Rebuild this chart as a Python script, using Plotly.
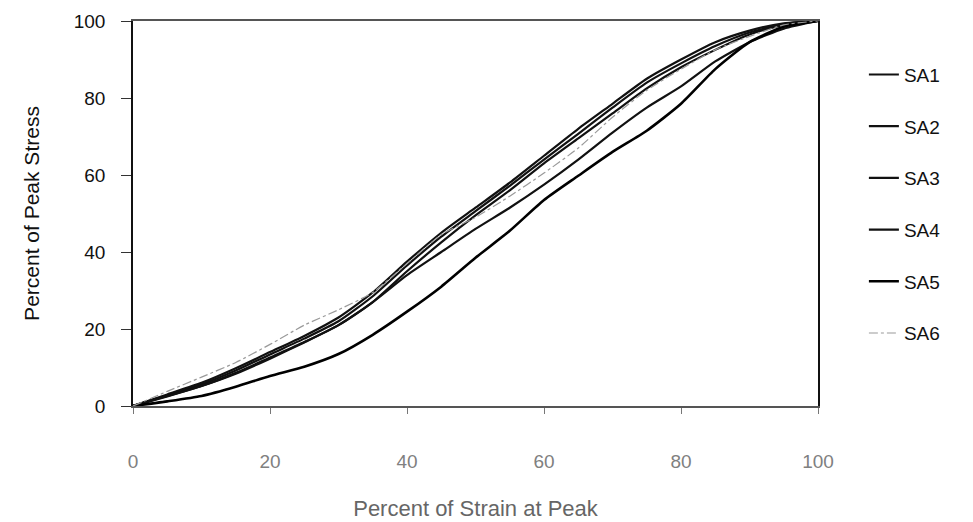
import plotly.graph_objects as go

strain = [0, 5, 10, 15, 20, 25, 30, 35, 40, 45, 50, 55, 60, 65, 70, 75, 80, 85, 90, 95, 100]

sa1 = [0, 2.8, 5.6, 9.2, 13.4, 17.5, 22.0, 28.5, 36.5, 44.0, 50.6, 57.2, 64.0, 70.7, 77.5, 84.0, 89.0, 93.5, 97.0, 99.2, 100]
sa2 = [0, 3.0, 6.0, 9.8, 14.0, 18.2, 23.0, 29.5, 37.5, 45.0, 51.5, 58.0, 65.0, 72.0, 78.5, 85.0, 90.0, 94.5, 97.5, 99.4, 100]
sa3 = [0, 2.6, 5.2, 8.6, 12.6, 16.6, 21.0, 27.0, 35.0, 42.5, 49.5, 56.0, 63.0, 69.5, 76.0, 82.5, 88.0, 92.5, 96.5, 99.0, 100]
sa4 = [0, 2.5, 5.2, 8.4, 12.3, 16.5, 21.0, 27.0, 34.0, 40.0, 46.0, 51.5, 57.5, 64.0, 71.0, 77.5, 83.0, 89.5, 94.5, 98.0, 100]
sa5 = [0, 1.2, 2.6, 5.0, 7.8, 10.2, 13.5, 18.5, 24.5, 31.0, 38.5, 45.5, 53.5, 59.8, 66.0, 71.5, 78.5, 87.5, 94.5, 98.5, 100]
sa6 = [0, 3.8, 7.5, 11.3, 16.0, 21.0, 25.0, 29.5, 37.0, 44.5, 49.0, 54.5, 60.5, 67.0, 75.0, 82.0, 87.5, 92.5, 96.0, 99.0, 100]

names = ["SA1", "SA2", "SA3", "SA4", "SA5", "SA6"]
series = [sa1, sa2, sa3, sa4, sa5, sa6]
colors = ["#111111", "#111111", "#111111", "#111111", "#000000", "#9a9a9a"]
widths = [2.2, 2.2, 2.2, 2.2, 2.6, 1.2]
dashes = ["solid", "solid", "solid", "solid", "solid", "dashdot"]

fig = go.Figure()
for n, s, c, w, d in zip(names, series, colors, widths, dashes):
    fig.add_trace(go.Scatter(
        x=strain, y=s, name=n, mode="lines", legendgroup=n,
        line=dict(color=c, width=w, dash=d, shape="spline", smoothing=0.6),
    ))

font = "Liberation Sans, Arial, sans-serif"
fig.update_layout(
    width=973, height=522,
    margin=dict(l=133, r=155, t=21, b=116),
    paper_bgcolor="white", plot_bgcolor="white",
    font=dict(family=font, size=19, color="#111111"),
    showlegend=True,
    legend=dict(
        x=1.067, y=0.91, xanchor="left", yanchor="top",
        font=dict(size=19, color="#111111"),
        tracegroupgap=24, bgcolor="rgba(0,0,0,0)",
    ),
    xaxis=dict(
        range=[0, 100], tickvals=[0, 20, 40, 60, 80, 100],
        automargin=False,
        showgrid=False, zeroline=False,
        showline=True, linecolor="#555555", linewidth=1.5, mirror=True,
        ticks="outside", ticklen=6, tickcolor="#777777",
        ticklabelstandoff=31,
        tickfont=dict(size=19, color="#808080"),
        title=dict(text="Percent of Strain at Peak", standoff=30,
                   font=dict(size=22, color="#666666")),
    ),
    yaxis=dict(
        range=[0, 100], tickvals=[0, 20, 40, 60, 80, 100],
        automargin=False,
        showgrid=False, zeroline=False,
        showline=True, linecolor="#111111", linewidth=1.5, mirror=True,
        ticks="outside", ticklen=10, tickcolor="#333333",
        ticklabelstandoff=12,
        tickfont=dict(size=19, color="#111111"),
        title=dict(text="Percent of Peak Stress", standoff=28,
                   font=dict(size=21, color="#111111")),
    ),
)

fig.write_html("out.html")
